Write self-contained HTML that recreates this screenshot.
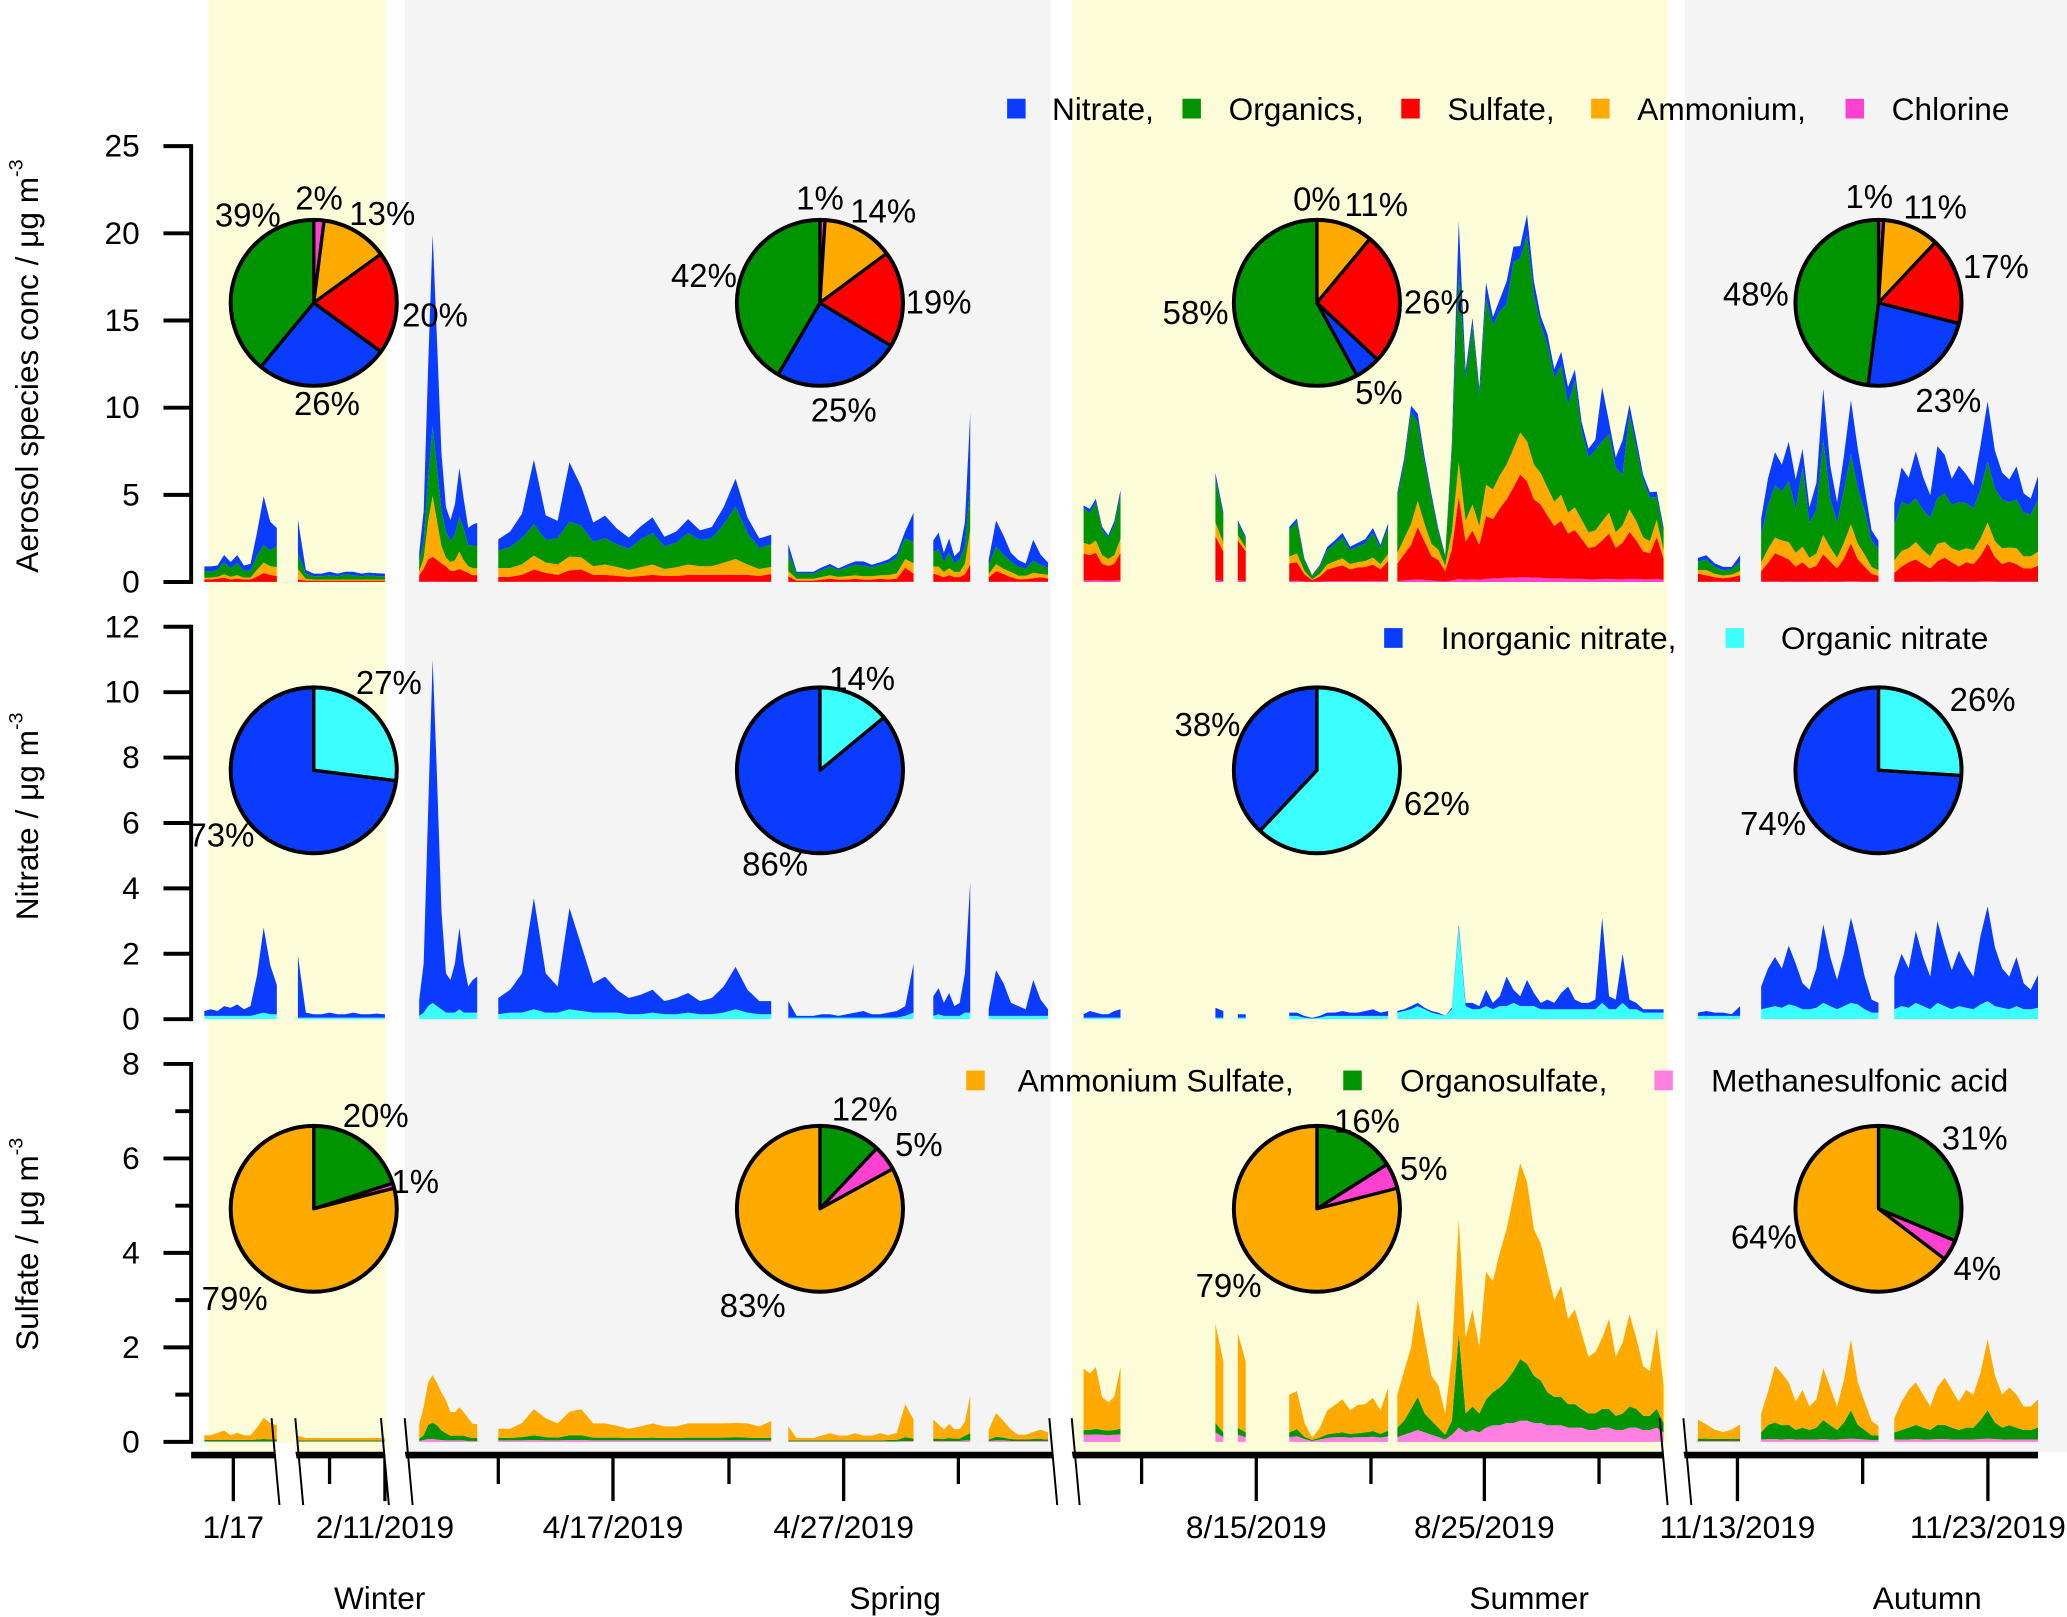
<!DOCTYPE html>
<html><head><meta charset="utf-8"><style>
html,body{margin:0;padding:0;background:#fff;}
svg{display:block;font-family:"Liberation Sans",sans-serif;}
</style></head><body>
<svg id="chart" width="2067" height="1617" viewBox="0 0 1568 1228" preserveAspectRatio="none" xmlns="http://www.w3.org/2000/svg">
<g id="bg"></g><g id="marks"></g><g id="axes"></g><g id="pies"></g><g id="labels"></g>
</svg>
<script>
// ---- data: per-segment time series ----
const inorgN = [
[0.15,0.2,0.15,0.3,0.25,0.35,0.2,0.3,1.2,2.6,1.5,0.9],
[1.9,0.15,0.1,0.1,0.15,0.1,0.1,0.15,0.1,0.1,0.12,0.1],
[0.5,1.5,6,10.5,7,3,1.2,1,1.5,2.5,1.5,0.8,1,1.1],
[0.5,0.7,1.2,3.4,1.2,0.8,3.1,2.0,0.9,1.1,0.7,0.5,0.6,0.7,0.4,0.5,0.6,0.4,0.5,0.8,1.3,0.7,0.4,0.4],
[0.5,0.05,0.05,0.05,0.1,0.1,0.05,0.1,0.15,0.2,0.1,0.1,0.15,0.2,0.3,1.5],
[0.6,0.8,0.4,0.7,0.3,0.4,1.2,4.0],
[0.2,1.4,1.0,0.4,0.3,0.2,1.1,0.5,0.2],
[0.1,0.2,0.15,0.1,0.1,0.2,0.25],
[0.3,0.2],
[0.1,0.1],
[0.1,0.1,0.05,0.02,0.05,0.1,0.1,0.15,0.1,0.1,0.15,0.2,0.1,0.15],
[0.05,0.05,0.1,0.1,0.05,0.05,0.05,0.0,0.05,0.1,0.1,0.2,0.1,0.5,0.2,0.3,0.9,0.4,0.3,0.8,0.4,0.2,0.3,0.2,0.5,0.7,0.3,0.2,0.2,0.3,2.6,0.4,0.3,1.5,0.3,0.2,0.1,0.1,0.1,0.1],
[0.1,0.15,0.1,0.1,0.05,0.3],
[0.7,1.2,1.5,1.2,1.8,1.3,0.8,0.6,1.2,2.4,1.5,0.9,1.6,2.6,1.8,1.0,0.4,0.3],
[1.0,1.6,1.2,2.2,1.5,1.0,2.5,1.8,1.2,1.7,1.3,1.0,2.1,2.9,1.8,1.2,1.0,1.5,0.8,0.6,1.0]];
const orgN = [
[0.1,0.1,0.1,0.1,0.1,0.1,0.1,0.1,0.15,0.2,0.15,0.15],
[0.05,0.05,0.05,0.05,0.05,0.05,0.05,0.05,0.05,0.05,0.05,0.05],
[0.1,0.2,0.4,0.5,0.4,0.3,0.2,0.2,0.2,0.3,0.2,0.2,0.2,0.2],
[0.15,0.2,0.2,0.3,0.2,0.2,0.3,0.25,0.2,0.2,0.2,0.15,0.15,0.2,0.15,0.15,0.2,0.15,0.15,0.2,0.3,0.2,0.15,0.15],
[0.05,0.05,0.05,0.05,0.05,0.05,0.05,0.05,0.05,0.05,0.05,0.05,0.05,0.05,0.1,0.2],
[0.1,0.15,0.1,0.1,0.1,0.1,0.2,0.2],
[0.1,0.1,0.1,0.1,0.1,0.1,0.1,0.1,0.1],
[0.05,0.05,0.05,0.05,0.05,0.05,0.05],
[0.05,0.05],
[0.05,0.05],
[0.1,0.1,0.05,0.02,0.05,0.1,0.1,0.1,0.1,0.1,0.1,0.1,0.1,0.1],
[0.2,0.25,0.3,0.4,0.3,0.2,0.15,0.1,0.3,2.8,0.4,0.3,0.3,0.4,0.3,0.4,0.4,0.5,0.4,0.4,0.4,0.3,0.3,0.3,0.3,0.3,0.3,0.3,0.3,0.3,0.5,0.3,0.3,0.5,0.3,0.3,0.2,0.2,0.2,0.2],
[0.1,0.1,0.1,0.1,0.1,0.1],
[0.3,0.35,0.4,0.35,0.45,0.4,0.3,0.3,0.35,0.5,0.4,0.3,0.4,0.5,0.45,0.3,0.2,0.2],
[0.3,0.4,0.35,0.5,0.4,0.3,0.5,0.4,0.3,0.4,0.35,0.3,0.45,0.55,0.4,0.35,0.3,0.4,0.3,0.3,0.35]];
const organics = [
[0.4,0.35,0.4,0.7,0.5,0.7,0.4,0.4,0.8,1.0,0.9,1.2],
[0.9,0.3,0.2,0.2,0.25,0.2,0.3,0.25,0.2,0.25,0.2,0.2],
[0.5,1.0,2.5,4,3,2,1.5,1.2,1.5,2,1.8,1.2,1.3,1.3],
[1.0,1.2,1.5,1.8,1.3,1.5,2.0,1.8,1.4,1.5,1.3,1.2,1.6,1.8,1.3,1.4,1.8,1.5,1.6,2.2,3.0,1.8,1.2,1.3],
[1.0,0.3,0.3,0.3,0.4,0.5,0.4,0.5,0.6,0.6,0.5,0.6,0.7,0.9,1.2,1.2],
[0.8,1.0,0.6,0.9,0.5,0.7,1.0,2.5],
[0.5,1.0,0.8,0.6,0.5,0.4,0.7,0.5,0.4],
[2,1.8,2.2,1.5,1.2,1.7,2.5],
[2.5,1.5],
[0.7,0.5],
[1.5,1.8,0.6,0.2,0.4,0.8,1.0,1.2,0.8,0.9,1.0,1.4,0.9,1.5],
[3.2,4.3,6.4,4.5,3.5,2.6,1.0,0.5,4.8,10.9,8.1,10.2,7.5,10.7,9.4,9.4,9.2,10.7,10,11.8,9.7,8.5,8.2,7.1,7.4,6.2,7.3,5.1,4.3,4.6,4.6,4.5,3.7,2.9,5.4,4.2,3.3,2.5,1.3,1.0],
[0.5,0.6,0.4,0.3,0.3,0.5],
[1.5,2.5,3.0,2.8,3.5,2.5,4.5,2.0,2.5,5.5,2.8,2.0,3.0,4.0,3.2,2.5,1.5,1.2],
[2.0,2.8,2.5,2.5,2.3,2.2,2.6,2.8,2.5,2.8,2.6,2.4,2.8,3.5,3.0,2.8,2.6,2.8,2.5,2.4,3.0]];
const ammonium = [
[0.1,0.1,0.1,0.2,0.15,0.2,0.1,0.1,0.4,0.6,0.5,0.5],
[0.6,0.1,0.05,0.05,0.05,0.05,0.05,0.05,0.05,0.05,0.05,0.05],
[0.2,0.6,2.2,3.5,2.2,1,0.5,0.5,0.6,1,0.6,0.4,0.4,0.4],
[0.5,0.5,0.6,0.8,0.6,0.6,0.8,0.7,0.5,0.6,0.5,0.4,0.5,0.6,0.4,0.5,0.6,0.5,0.5,0.7,0.9,0.6,0.4,0.4],
[0.3,0.1,0.1,0.1,0.15,0.2,0.15,0.2,0.2,0.2,0.2,0.2,0.25,0.3,0.5,0.6],
[0.4,0.5,0.3,0.4,0.3,0.3,0.6,2.0],
[0.2,0.4,0.3,0.3,0.2,0.2,0.3,0.2,0.2],
[0.6,0.6,0.7,0.5,0.4,0.5,0.8],
[0.8,0.5],
[0.3,0.2],
[0.4,0.5,0.2,0.05,0.15,0.3,0.35,0.4,0.3,0.3,0.35,0.4,0.3,0.4],
[0.6,0.9,1.2,1.5,1.0,0.7,0.6,0.3,1.0,2.0,1.2,1.5,1.1,1.8,1.7,1.9,2.0,2.2,2.4,2.3,2.0,1.8,1.6,1.4,1.5,1.2,1.3,1.1,0.9,0.9,1.1,1.2,0.9,1.0,1.3,1.1,0.8,0.7,1.0,0.5],
[0.2,0.3,0.2,0.15,0.15,0.25],
[0.5,0.8,0.9,0.9,1.0,0.8,0.9,0.6,0.7,1.1,0.8,0.6,0.9,1.1,0.9,0.7,0.4,0.3],
[0.7,0.9,0.8,1.0,0.8,0.7,1.0,0.9,0.8,0.9,0.8,0.8,1.0,1.2,0.9,0.9,0.8,0.9,0.7,0.7,0.8]];
const ammSulf = [
[0.1,0.1,0.15,0.2,0.1,0.15,0.1,0.1,0.25,0.45,0.35,0.3],
[0.1,0.05,0.05,0.05,0.05,0.05,0.05,0.05,0.05,0.05,0.05,0.05],
[0.3,0.6,0.9,1.0,0.9,0.8,0.7,0.5,0.5,0.6,0.5,0.4,0.3,0.3],
[0.2,0.2,0.3,0.55,0.4,0.3,0.5,0.55,0.3,0.3,0.25,0.2,0.25,0.3,0.25,0.25,0.3,0.3,0.3,0.3,0.3,0.3,0.25,0.35],
[0.3,0.05,0.05,0.05,0.1,0.15,0.1,0.1,0.15,0.1,0.1,0.15,0.1,0.15,0.7,0.4],
[0.4,0.3,0.2,0.3,0.2,0.2,0.3,0.8],
[0.2,0.5,0.35,0.2,0.1,0.1,0.15,0.2,0.15],
[1.3,1.2,1.3,0.7,0.6,0.7,1.3],
[2.1,1.5],
[2.0,1.5],
[0.8,0.8,0.3,0.05,0.2,0.5,0.6,0.7,0.5,0.6,0.6,0.7,0.5,0.9],
[0.7,1.05,1.3,2.05,1.6,0.95,0.9,0.45,1.35,2.4,1.6,2.05,1.4,2.7,2.35,2.85,3.2,3.7,4.15,3.85,3.1,2.9,2.55,2.05,2.35,1.8,2.0,1.6,1.2,1.3,1.5,1.9,1.25,1.5,1.95,1.5,1.05,0.95,1.7,0.8],
[0.4,0.3,0.2,0.15,0.2,0.3],
[0.4,0.7,1.2,1.1,0.9,0.6,0.8,0.5,0.6,1.1,0.8,0.5,0.9,1.5,0.9,0.6,0.3,0.2],
[0.3,0.6,0.8,0.9,0.7,0.5,0.8,1.0,0.8,0.6,0.8,0.7,1.0,1.5,1.0,0.7,0.8,0.7,0.5,0.5,0.6]];
const organoSulf = [
[0.03,0.03,0.03,0.03,0.03,0.03,0.03,0.03,0.04,0.05,0.04,0.04],
[0.02,0.02,0.02,0.02,0.02,0.02,0.02,0.02,0.02,0.02,0.02,0.02],
[0.05,0.1,0.3,0.35,0.3,0.2,0.15,0.1,0.1,0.1,0.1,0.08,0.06,0.06],
[0.05,0.05,0.07,0.1,0.07,0.06,0.1,0.1,0.06,0.06,0.06,0.05,0.05,0.06,0.05,0.05,0.06,0.06,0.06,0.06,0.07,0.06,0.05,0.06],
[0.02,0.02,0.02,0.02,0.02,0.02,0.02,0.02,0.02,0.02,0.02,0.02,0.03,0.03,0.08,0.05],
[0.05,0.05,0.04,0.06,0.05,0.05,0.1,0.15],
[0.03,0.08,0.06,0.04,0.03,0.03,0.04,0.04,0.03],
[0.1,0.1,0.12,0.1,0.1,0.1,0.12],
[0.2,0.1],
[0.15,0.1],
[0.1,0.15,0.05,0.02,0.04,0.08,0.08,0.1,0.08,0.08,0.1,0.12,0.08,0.12],
[0.2,0.3,0.5,0.7,0.4,0.3,0.2,0.1,0.3,2.0,0.4,0.5,0.4,0.6,0.7,0.8,0.9,1.1,1.3,1.2,1.0,0.9,0.7,0.6,0.6,0.5,0.5,0.4,0.35,0.35,0.4,0.4,0.3,0.35,0.45,0.4,0.3,0.3,0.4,0.2],
[0.05,0.05,0.04,0.04,0.04,0.05],
[0.15,0.3,0.35,0.3,0.3,0.2,0.25,0.2,0.25,0.4,0.3,0.2,0.35,0.6,0.3,0.2,0.1,0.1],
[0.15,0.2,0.25,0.3,0.25,0.2,0.3,0.3,0.25,0.2,0.25,0.25,0.4,0.6,0.35,0.25,0.3,0.25,0.2,0.2,0.25]];
const msa = [
[0.01,0.01,0.01,0.01,0.01,0.01,0.01,0.01,0.01,0.01,0.01,0.01],
[0.01,0.01,0.01,0.01,0.01,0.01,0.01,0.01,0.01,0.01,0.01,0.01],
[0.02,0.04,0.06,0.06,0.05,0.04,0.03,0.03,0.03,0.03,0.03,0.02,0.02,0.02],
[0.03,0.03,0.03,0.04,0.03,0.03,0.04,0.04,0.03,0.03,0.03,0.03,0.03,0.03,0.03,0.03,0.03,0.03,0.03,0.03,0.03,0.03,0.03,0.03],
[0.01,0.01,0.01,0.01,0.01,0.01,0.01,0.01,0.01,0.01,0.01,0.01,0.01,0.01,0.02,0.02],
[0.02,0.02,0.02,0.02,0.02,0.02,0.03,0.03],
[0.02,0.03,0.03,0.02,0.02,0.02,0.02,0.02,0.02],
[0.15,0.15,0.16,0.15,0.14,0.15,0.16],
[0.2,0.1],
[0.15,0.1],
[0.1,0.12,0.06,0.02,0.05,0.08,0.1,0.1,0.09,0.1,0.1,0.11,0.09,0.12],
[0.1,0.15,0.2,0.25,0.2,0.15,0.1,0.05,0.15,0.3,0.2,0.25,0.2,0.3,0.35,0.35,0.4,0.4,0.45,0.45,0.4,0.4,0.35,0.35,0.35,0.3,0.3,0.3,0.25,0.25,0.3,0.3,0.25,0.25,0.3,0.3,0.25,0.25,0.3,0.2],
[0.02,0.02,0.02,0.02,0.02,0.02],
[0.05,0.06,0.06,0.05,0.06,0.05,0.05,0.05,0.05,0.06,0.05,0.05,0.06,0.07,0.06,0.05,0.04,0.04],
[0.05,0.05,0.05,0.06,0.05,0.05,0.06,0.06,0.05,0.05,0.05,0.05,0.06,0.07,0.06,0.05,0.05,0.05,0.05,0.05,0.05]];
// pie fractions (clockwise from top)
const pieTopLabels = ["Chlorine","Ammonium","Sulfate","Nitrate","Organics"];
const pieTop = [[2,13,20,26,39],[1,14,19,25,42],[0,11,26,5,58],[1,11,17,23,48]];
const pieMidLabels = ["Organic nitrate","Inorganic nitrate"];
const pieMid = [[27,73],[14,86],[62,38],[26,74]];
const pieBotLabels = ["Organosulfate","Methanesulfonic acid","Ammonium Sulfate"];
const pieBot = [[20,1,79],[12,5,83],[16,5,79],[31,4,64]];
const yTicksTop = [0,5,10,15,20,25];
const yTicksMid = [0,2,4,6,8,10,12];
const yTicksBot = [0,2,4,6,8];
const xTickLabels = ["1/17","2/11/2019","4/17/2019","4/27/2019","8/15/2019","8/25/2019","11/13/2019","11/23/2019"];
const seasons = ["Winter","Spring","Summer","Autumn"];

// ---- layout ----
const NS="http://www.w3.org/2000/svg";
const segPix=[[155,210],[226,292],[318,362],[378,585],[598,693],[708,736],[750,795],[822,850],[923,927],[940,944],[978,1053],[1060,1262],[1288,1320],[1336,1425],[1437,1546]];
const C={nit:"#0a3cff",org:"#009400",sul:"#ff0000",amm:"#ffaa00",chl:"#ff40d0",orgN:"#3cffff",msa:"#ff80e0"};
const FS=24, PFS=25;
function yTop(v){return 442-v*(331/25);}
function yMid(v){return 774-v*(298/12);}
function yBot(v){return 1095-v*(287/8);}
function xAt(s,i){const [a,b]=segPix[s];const n=inorgN[s].length;return n<2?a:a+(b-a)*i/(n-1);}
function el(tag,attrs,parent){const e=document.createElementNS(NS,tag);for(const k in attrs)e.setAttribute(k,attrs[k]);parent.appendChild(e);return e;}
const bg=document.getElementById('bg'),marks=document.getElementById('marks'),axes=document.getElementById('axes'),pies=document.getElementById('pies'),labels=document.getElementById('labels');

const bands=[[158,293,"#fcfcd9"],[307,797,"#f4f4f4"],[813,1265,"#fcfcd9"],[1278,1568,"#f4f4f4"]];
bands.forEach((b,i)=>{const r=el('rect',{x:b[0],y:0,width:b[1]-b[0],height:1103,fill:b[2]},bg);

});

function stack(s,layers,yf,panel){
  const n=inorgN[s].length;let base=new Array(n).fill(0);
  layers.forEach(([vals,color,name])=>{
    const top=base.map((b,i)=>b+vals[i]);
    let pts=[];
    for(let i=0;i<n;i++)pts.push(xAt(s,i).toFixed(1)+","+yf(top[i]).toFixed(1));
    if(n<=2){pts=[ (xAt(s,0)-1)+","+yf(top[0]), (xAt(s,n-1)+1)+","+yf(top[n-1]) ];}
    for(let i=n-1;i>=0;i--)pts.push((n<=2?(i==0?xAt(s,0)-1:xAt(s,i)+1):xAt(s,i)).toFixed(1)+","+yf(base[i]).toFixed(1));
    const p=el('polygon',{points:pts.join(" "),fill:color},marks);
    
    
    base=top;});
}
for(let s=0;s<segPix.length;s++){
  const nitTot=inorgN[s].map((v,i)=>v+orgN[s][i]);
  const sulTot=ammSulf[s].map((v,i)=>v+organoSulf[s][i]+msa[s][i]);
  const chl=msa[s].map(v=>v*0.6);
  stack(s,[[chl,C.chl,"chlorine"],[sulTot,C.sul,"sulfate"],[ammonium[s],C.amm,"ammonium"],[organics[s],C.org,"organics"],[nitTot,C.nit,"nitrate"]],yTop,"top");
  stack(s,[[orgN[s],C.orgN,"organic-nitrate"],[inorgN[s],C.nit,"inorganic-nitrate"]],yMid,"mid");
  stack(s,[[msa[s],C.msa,"msa"],[organoSulf[s],C.org,"organosulfate"],[ammSulf[s],C.amm,"ammonium-sulfate"]],yBot,"bot");
}

// y axes
function yAxis(ticks,yf,minor,name){
  const g=el('g',{},axes);
  el('line',{x1:145,x2:145,y1:yf(ticks[ticks.length-1])-1.5,y2:yf(0)+1.5,stroke:"#000","stroke-width":3},g);
  ticks.forEach(t=>{el('line',{x1:124,x2:145,y1:yf(t),y2:yf(t),stroke:"#000","stroke-width":3},g);
    const tx=el('text',{x:106,y:yf(t)+8,"text-anchor":"end","font-size":FS},g);tx.textContent=t;});
  minor.forEach(t=>el('line',{x1:133,x2:145,y1:yf(t),y2:yf(t),stroke:"#000","stroke-width":3},g));
}
yAxis(yTicksTop,yTop,[],"y-axis-top");
yAxis(yTicksMid,yMid,[],"y-axis-nitrate");
yAxis(yTicksBot,yBot,[1,3,5,7],"y-axis-sulfate");
function yTitle(txt,cy,name){
  const t=el('text',{transform:`translate(29,${cy}) rotate(-90)`,"text-anchor":"middle","font-size":FS},labels);
  
  t.innerHTML=txt+'<tspan dy="-12" font-size="15">-3</tspan>';}
yTitle("Aerosol species conc / μg m",278,"y-axis-title-top");
yTitle("Nitrate / μg m",620,"y-axis-title-nitrate");
yTitle("Sulfate / μg m",945,"y-axis-title-sulfate");

// x axis
const xa=el('g',{},axes);
el('line',{x1:145,x2:1546,y1:1105,y2:1105,stroke:"#000","stroke-width":5},xa);
const majorX=[177,292,465,640,953,1126,1318,1508];
const minorX=[250,378,553,727,866,1040,1213,1413];
majorX.forEach((x,i)=>{el('line',{x1:x,x2:x,y1:1105,y2:1140,stroke:"#000","stroke-width":2.5},xa);
  const t=el('text',{x:x,y:1168,"text-anchor":"middle","font-size":FS},labels);t.textContent=xTickLabels[i];
  });
minorX.forEach(x=>el('line',{x1:x,x2:x,y1:1105,y2:1127,stroke:"#000","stroke-width":2.5},xa));
[[206,224],[289,307],[796,813],[1259,1277]].forEach(([a,b])=>{
  el('polygon',{points:`${a+1},1096 ${b-1},1096 ${b+2},1114 ${a+4},1114`,fill:"#fff"},xa);
  el('line',{x1:a,y1:1077,x2:a+6,y2:1143,stroke:"#000","stroke-width":1.5},xa);
  el('line',{x1:b,y1:1077,x2:b+6,y2:1143,stroke:"#000","stroke-width":1.5},xa);});
[288,679,1160,1462].forEach((x,i)=>{const t=el('text',{x:x,y:1222,"text-anchor":"middle","font-size":FS},labels);t.textContent=seasons[i];
  });

// pies
const pieX=[238,622,999,1425];
function pie(cx,cy,r,vals,cols,name){
  const g=el('g',{},pies);
  const tot=vals.reduce((a,b)=>a+b,0);let a0=0;
  el('circle',{cx:cx,cy:cy,r:r,fill:"#fff"},g);
  vals.forEach((v,i)=>{const a1=a0+v/tot*2*Math.PI;
    const x0=cx+r*Math.sin(a0),y0=cy-r*Math.cos(a0),x1=cx+r*Math.sin(a1),y1=cy-r*Math.cos(a1);
    const p=el('path',{d:`M${cx},${cy} L${x0},${y0} A${r},${r} 0 ${a1-a0>Math.PI?1:0} 1 ${x1},${y1} Z`,fill:cols[i],stroke:"#000","stroke-width":2.5,"stroke-linejoin":"round"},g);
    
    a0=a1;});
  el('circle',{cx:cx,cy:cy,r:r,fill:"none",stroke:"#000","stroke-width":3},g);
}
pieTop.forEach((v,i)=>pie(pieX[i],230,63,v,[C.chl,C.amm,C.sul,C.nit,C.org],'pie-top-'+i));
pieMid.forEach((v,i)=>pie(pieX[i],585,63,v,[C.orgN,C.nit],'pie-nitrate-'+i));
pieBot.forEach((v,i)=>pie(pieX[i],918,63,v,[C.org,C.chl,C.amm],'pie-sulfate-'+i));
const topLblPos=[[[242,150],[290,162],[330,239],[248,306],[188,163]],[[622,150],[670,160],[712,229],[640,311],[534,209]],[[999,151],[1044,155],[1090,229],[1046,298],[907,237]],[[1418,149],[1468,157],[1514,202],[1478,304],[1332,223]]];
const midLblPos=[[[295,518],[168,634]],[[654,515],[588,656]],[[1090,610],[916,550]],[[1504,531],[1345,625]]];
const botLblPos=[[[285,847],[315,897],[178,986]],[[656,842],[697,869],[571,991]],[[1037,851],[1080,887],[932,976]],[[1498,864],[1500,963],[1338,939]]];
function pieLabels(data,pos){data.forEach((vals,i)=>vals.forEach((v,j)=>{
  const t=el('text',{x:pos[i][j][0],y:pos[i][j][1]+9,"text-anchor":"middle","font-size":PFS},labels);t.textContent=v+"%";
  }));}
pieLabels(pieTop,topLblPos);pieLabels(pieMid,midLblPos);pieLabels(pieBot,botLblPos);

// legends
function legend(items,y,name){
  const g=el('g',{},labels);
  items.forEach(([sx,tx,col,txt])=>{
    const r=el('rect',{x:sx,y:y-8,width:14,height:15,fill:col},g);
    
    const t=el('text',{x:tx,y:y+8,"font-size":FS},g);t.textContent=txt;
    });
}
legend([[764,798,C.nit,"Nitrate,"],[897,932,C.org,"Organics,"],[1063,1098,C.sul,"Sulfate,"],[1207,1242,C.amm,"Ammonium,"],[1400,1435,C.chl,"Chlorine"]],83,"legend-top");
legend([[1050,1093,C.nit,"Inorganic nitrate,"],[1309,1351,C.orgN,"Organic nitrate"]],485,"legend-nitrate");
legend([[733,772,C.amm,"Ammonium Sulfate,"],[1019,1062,C.org,"Organosulfate,"],[1255,1298,C.msa,"Methanesulfonic acid"]],821,"legend-sulfate");
</script>
</body></html>
